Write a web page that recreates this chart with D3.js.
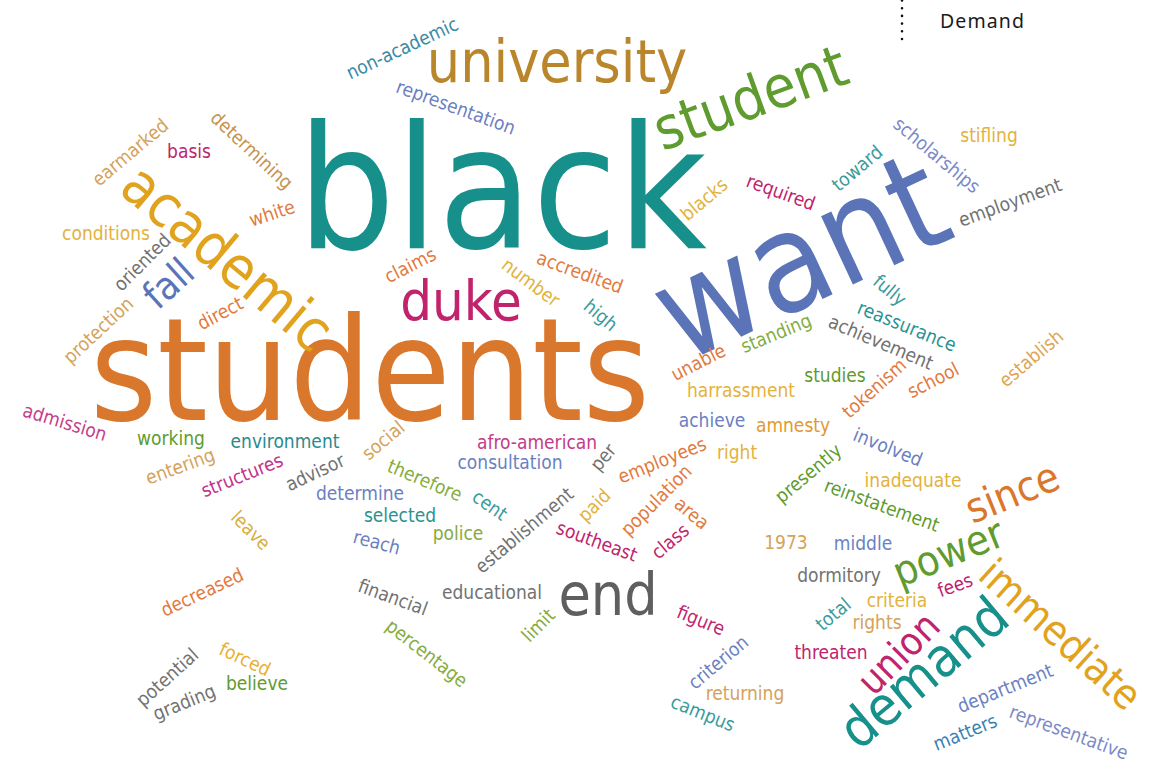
<!DOCTYPE html>
<html><head><meta charset="utf-8">
<script src="https://cdn.jsdelivr.net/npm/d3@7"></script>
<style>
html,body{margin:0;padding:0;background:#fff;}
svg{display:block;}
</style></head>
<body>
<script>
// ---- data: words and their relative frequencies ----
const words = ["black","students","want","academic","university","student","duke","end","demand","since","power","immediate","union","fall",
"non-academic","representation","earmarked","basis","determining","white","conditions","oriented","protection","direct","admission","working",
"environment","entering","structures","advisor","determine","social","therefore","afro-american","consultation","per","cent","selected","reach",
"police","establishment","paid","southeast","population","employees","area","class","right","achieve","harrassment","amnesty","unable","standing",
"high","accredited","number","claims","blacks","required","toward","scholarships","stifling","employment","fully","reassurance","achievement",
"studies","tokenism","school","establish","involved","presently","inadequate","reinstatement","1973","middle","dormitory","fees","criteria","total",
"rights","threaten","department","matters","representative","returning","campus","criterion","figure","limit","educational","financial","percentage",
"leave","decreased","potential","grading","forced","believe"];
const counts = [55,45,43,15,15,15,14,15,13.5,9,9,9,8,8,
1,1,1,1,1,1,1,1,1,1,1,1,1,1,1,1,1,1,1,1,1,1,1,1,1,1,1,1,1,1,1,1,1,1,1,1,1,1,1,1,1,1,1,1,1,1,1,1,1,1,1,1,1,1,1,1,1,1,1,1,1,1,1,1,1,1,1,1,1,1,1,1,1,1,1,1,1,1,1,1,1,1,1,1,1];

// ---- layout (centre x, centre y, rotation) ----
const layout = [[502,186,0],[370,368,0],[799,255,-25],[228,257,40],[557,61,0],[750,97,-20],[461,300,0],[608,594,0],[923,672,-40],
[1012,492,-22],[948,552,-22],[1061,634,42],[898,653,-45],[168,283,-42],
[402,48,-25],[456,107,20],[130,152,-40],[189,151,0],[252,150,43],[272,213,-18],[106,233,0],[142,262,-45],[98,330,-43],[220,313,-28],
[65,422,17],[171,438,0],[285,441,0],[180,466,-20],[242,475,-22],[315,472,-25],[360,493,0],[383,440,-40],[425,480,23],[537,442,0],
[510,462,0],[603,457,-50],[490,505,35],[400,515,0],[377,542,15],[458,533,0],[524,530,-40],[594,505,-45],[597,541,20],[656,500,-45],
[662,460,-22],[692,513,40],[670,541,-40],[737,452,0],[712,420,0],[741,390,0],[793,425,0],[698,362,-27],[776,333,-22],[601,315,40],
[580,272,20],[531,282,37],[410,265,-27],[704,199,-40],[781,192,20],[857,168,-40],[937,155,40],[989,135,0],[1010,202,-20],[890,290,40],
[907,326,22],[881,342,23],[835,375,0],[874,388,-42],[933,380,-27],[1031,358,-40],[888,447,22],[808,473,-40],[913,480,0],[882,505,20],
[786,542,0],[863,543,0],[839,575,0],[955,585,-20],[897,600,0],[833,614,-40],[877,622,0],[831,652,0],[1005,688,-22],[965,732,-22],
[1069,732,20],[745,693,0],[703,713,22],[718,662,-40],[701,620,22],[538,625,-45],[492,592,0],[393,597,20],[427,653,38],[251,530,45],
[202,592,-25],[167,677,-42],[184,702,-22],[245,659,25],[257,683,0]];

// ---- colours ----
const TEAL="#17908c", ORANGE="#d9772c", BLUE="#5b74b8", GOLD="#e1a21d", BROWN="#b9862c", GREEN="#5f9b2f", MAG="#c0246c", GRAY="#5f5f5f",
      LBLUE="#6b7fc2", LGREEN="#85ac3e", LGOLD="#e3b23c", TAN="#d4a25a", LORANGE="#e17a40", LTEAL="#3a9b9b", LGRAY="#727272", PINK="#c53a8a";
const colors = [TEAL,ORANGE,BLUE,GOLD,BROWN,GREEN,MAG,GRAY,TEAL,ORANGE,GREEN,GOLD,MAG,BLUE,
"#3a8aa4",LBLUE,TAN,MAG,"#c49350",LORANGE,LGOLD,LGRAY,TAN,LORANGE,"#c4408a",GREEN,
"#2a8a8e",TAN,"#c4308a",LGRAY,LBLUE,TAN,LGREEN,PINK,LBLUE,LGRAY,LTEAL,"#2a9292",LBLUE,
LGREEN,LGRAY,LGOLD,MAG,LORANGE,LORANGE,LORANGE,MAG,LGOLD,LBLUE,LGOLD,"#e09a30",LORANGE,LGREEN,
LTEAL,LORANGE,LGOLD,LORANGE,LGOLD,MAG,LTEAL,"#7b89c9",LGOLD,LGRAY,LTEAL,"#2a9292",LGRAY,
GREEN,LORANGE,LORANGE,"#e0a552",LBLUE,GREEN,LGOLD,GREEN,TAN,LBLUE,LGRAY,MAG,LGOLD,LTEAL,
TAN,MAG,LBLUE,"#3b7fb2","#7b89c9",TAN,LTEAL,LBLUE,MAG,LGREEN,LGRAY,LGRAY,LGREEN,
"#d8b040",LORANGE,LGRAY,LGRAY,"#e8b030",GREEN];

const W = 1153, H = 764;
const size = d3.scaleLinear().domain([1, 58]).range([19, 180]);

const svg = d3.select("body").append("svg").attr("width", W).attr("height", H);

const data = words.map((w, i) => ({text: w, count: counts[i], pos: layout[i], color: colors[i]}));

svg.append("g").selectAll("text").data(data).join("text")
  .attr("transform", d => `translate(${d.pos[0]},${d.pos[1]}) rotate(${d.pos[2]})`)
  .attr("text-anchor", "middle")
  .attr("dy", "0.36em")
  .style("font-family", "'DejaVu Sans Condensed','DejaVu Sans',sans-serif")
  .style("font-stretch", "condensed")
  .style("font-size", d => size(d.count) + "px")
  .attr("fill", d => d.color)
  .text(d => d.text);

// legend fragment in the top-right
svg.append("line").attr("x1", 902).attr("x2", 902).attr("y1", 0.5).attr("y2", 40)
  .attr("stroke", "#111").attr("stroke-width", 2.6).attr("stroke-linecap", "round")
  .attr("stroke-dasharray", "0 7.7");
svg.append("text").attr("x", 940).attr("y", 28)
  .style("font-family", "'Noto Sans',sans-serif").style("font-size", "19.5px")
  .style("letter-spacing", "1.1px").attr("fill", "#1a1a1a").text("Demand");
</script>
</body></html>
